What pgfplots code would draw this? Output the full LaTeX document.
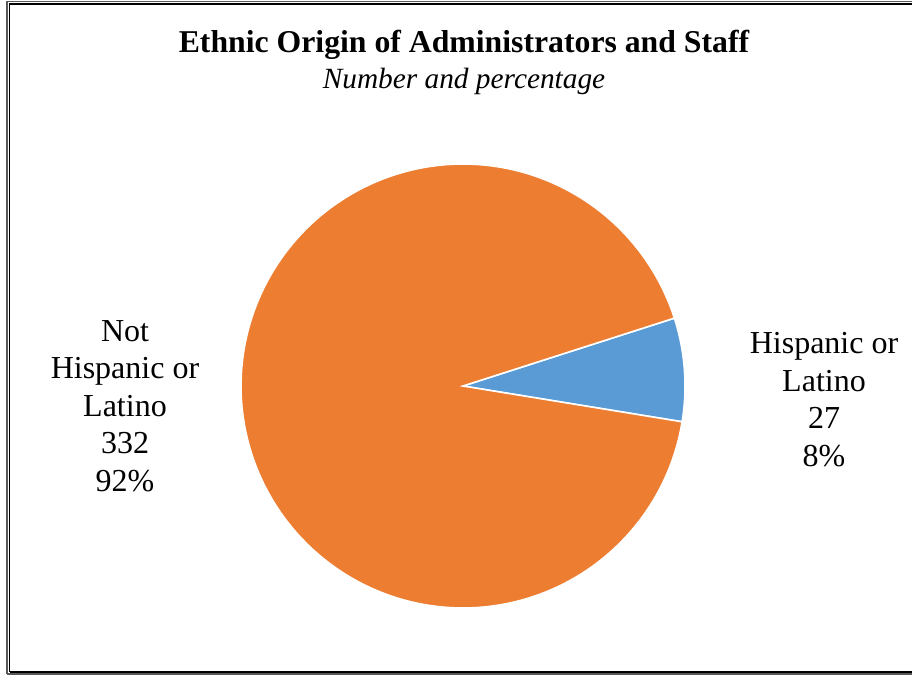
\documentclass[border=0pt]{standalone}
\usepackage{pgfplots}
\pgfplotsset{compat=1.18}
\usepackage{pgfplotstable}
\usepackage{fontspec}
\setmainfont{Liberation Serif}
\definecolor{pieorange}{HTML}{ED7D31}
\definecolor{pieblue}{HTML}{5B9BD5}
\pgfplotstableread{
label value
Hispanic 27
NotHispanic 332
}\piedata
\pgfplotstablegetelem{0}{value}\of\piedata
\let\vA\pgfplotsretval
\pgfplotstablegetelem{1}{value}\of\piedata
\let\vB\pgfplotsretval
\pgfmathsetmacro{\tot}{\vA+\vB}
\pgfmathsetmacro{\startA}{17.8}
\pgfmathsetmacro{\endA}{\startA-\vA/\tot*360}
\pgfmathsetmacro{\endB}{\startA+\vB/\tot*360}
\begin{document}
\begin{tikzpicture}
\begin{axis}[
  scale only axis, width=684pt, height=506.25pt,
  xmin=0, xmax=912, ymin=0, ymax=675,
  axis lines=none, clip=false,
]
\addplot[fill=pieblue, draw=white, line width=1.2pt, domain=\endA:\startA, samples=60, variable=\t]
  ({463+222*cos(\t)},{289+222*sin(\t)}) -- (axis cs:463,289) -- cycle;
\addplot[fill=pieorange, draw=white, line width=1.2pt, domain=\startA:\endB, samples=200, variable=\t]
  ({463+222*cos(\t)},{289+222*sin(\t)}) -- (axis cs:463,289) -- cycle;
\node[font=\fontsize{23.8}{28}\selectfont\bfseries] at (axis cs:464,630) {Ethnic Origin of Administrators and Staff};
\node[font=\fontsize{22}{26}\selectfont\itshape] at (axis cs:464,594) {Number and percentage};
\node[align=center, font=\fontsize{24}{28.1}\selectfont] at (axis cs:125,269) {Not\\Hispanic or\\Latino\\332\\92\%};
\node[align=center, font=\fontsize{24}{28.1}\selectfont] at (axis cs:824,275.5) {Hispanic or\\Latino\\27\\8\%};
\draw[color=black!65, line width=1.4pt] (axis cs:7,1) -- (axis cs:7,673.5) -- (axis cs:930,673.5);
\draw[color=black!65, line width=1.4pt] (axis cs:7,1) -- (axis cs:930,1);
\draw[color=black, line width=0.9pt] (axis cs:9.8,3) -- (axis cs:9.8,671) -- (axis cs:930,671);
\draw[color=black, line width=0.9pt] (axis cs:9.8,3) -- (axis cs:930,3);
\end{axis}
\pgfresetboundingbox
\useasboundingbox (0,0) rectangle (684pt,506.25pt);
\end{tikzpicture}
\end{document}
